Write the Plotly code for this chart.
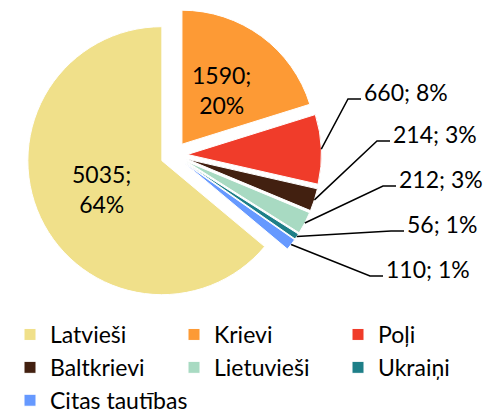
import math
import plotly.graph_objects as go

labels = ["Latvieši", "Krievi", "Poļi", "Baltkrievi", "Lietuvieši", "Ukraiņi", "Citas tautības"]
values = [5035, 1590, 660, 214, 212, 56, 110]
percents = ["64%", "20%", "8%", "3%", "3%", "1%", "1%"]
colors = ["#F0E08A", "#FD9A35", "#F03C2A", "#422010", "#A8DAC2", "#1E7F88", "#6699FF"]

W, H = 489, 412
FONT = "Lato, 'Open Sans', sans-serif"
FS = 23

# pie geometry (pixels)
cx, cy, R = 174, 155, 134
pull = 0.10
half = R * (1 + pull)
dom_x = [(cx - half) / W, (cx + half) / W]
dom_y = [1 - (cy + half) / H, 1 - (cy - half) / H]

total = sum(values)
rotation = 360 - values[0] / total * 360

fig = go.Figure(go.Pie(
    labels=labels, values=values, sort=False, direction="clockwise",
    rotation=rotation, pull=[pull] * len(values),
    marker=dict(colors=colors, line=dict(color="white", width=1)),
    textinfo="none", hoverinfo="label+value+percent",
    domain=dict(x=dom_x, y=dom_y),
))

def px_to_paper(x, y):
    return x / W, 1 - y / H

# mid angles of slices, from the data
mids = []
a = rotation
for v in values:
    span = v / total * 360
    mids.append((a + span / 2) % 360)
    a += span

def point(i, frac):
    t = math.radians(mids[i])
    dx, dy = math.sin(t), -math.cos(t)
    pcx, pcy = cx + R * pull * dx, cy + R * pull * dy
    return pcx + frac * R * dx, pcy + frac * R * dy

annotations = []
shapes = []
# inside labels
for i in (0, 1):
    x, y = point(i, 0.5)
    px, py = px_to_paper(x, y)
    annotations.append(dict(x=px, y=py, xref="paper", yref="paper", showarrow=False,
                            text=f"{values[i]};<br>{percents[i]}",
                            font=dict(family=FONT, size=FS, color="black"),
                            xanchor="center", yanchor="middle"))

# outside labels: (text left x, text center y) in pixels
label_pos = {2: (362, 92), 3: (391, 134), 4: (397, 179), 5: (405, 224), 6: (384, 269)}
for i, (tx, ty) in label_pos.items():
    ax, ay = point(i, 1.0)
    ex, ey = tx - 14, ty + 7
    hx = tx - 1
    p = [px_to_paper(ax, ay), px_to_paper(ex, ey), px_to_paper(hx, ey)]
    path = "M {} {} L {} {} L {} {}".format(p[0][0], p[0][1], p[1][0], p[1][1], p[2][0], p[2][1])
    shapes.append(dict(type="path", path=path, xref="paper", yref="paper",
                       line=dict(color="black", width=1.5)))
    lx, ly = px_to_paper(tx, ty)
    annotations.append(dict(x=lx, y=ly, xref="paper", yref="paper", showarrow=False,
                            text=f"{values[i]}; {percents[i]}",
                            font=dict(family=FONT, size=FS, color="black"),
                            xanchor="left", yanchor="middle"))

fig.update_layout(
    width=W, height=H,
    margin=dict(l=0, r=0, t=0, b=0, autoexpand=False),
    paper_bgcolor="white", plot_bgcolor="white",
    showlegend=True,
    legend=dict(orientation="h", x=10 / W, xanchor="left", y=1 - 313 / H, yanchor="top",
                font=dict(family=FONT, size=FS, color="black"),
                entrywidth=119, entrywidthmode="pixels", traceorder="normal",
                itemclick=False, itemdoubleclick=False),
    annotations=annotations, shapes=shapes,
)

fig.write_html("out.html", config={"displayModeBar": False},
               post_script="document.body.style.margin='0px';")
